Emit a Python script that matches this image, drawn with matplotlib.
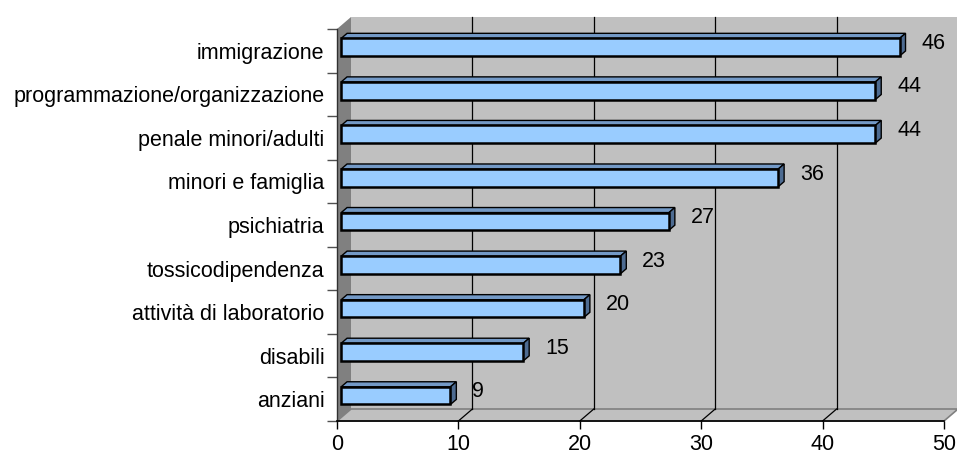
import matplotlib
matplotlib.use("Agg")
import matplotlib.pyplot as plt
from matplotlib.patches import Polygon, Rectangle

# data, top to bottom as in the chart
categories = ["immigrazione", "programmazione/organizzazione", "penale minori/adulti",
              "minori e famiglia", "psichiatria", "tossicodipendenza",
              "attività di laboratorio", "disabili", "anziani"]
values = [46, 44, 44, 36, 27, 23, 20, 15, 9]
x_ticks = [0, 10, 20, 30, 40, 50]

plt.rcParams['font.family'] = ['Liberation Sans', 'DejaVu Sans']
FS = 15.5

W, H = 957, 457
fig = plt.figure(figsize=(W / 100, H / 100), dpi=100)
fig.patch.set_facecolor('white')

# front plane of the 3d box in pixels
left_px, right_px, top_px, bot_px = 337, 944, 29, 421
ax = fig.add_axes([left_px / W, (H - bot_px) / H, (right_px - left_px) / W, (bot_px - top_px) / H])

n = len(categories)
xmax = 50
ax.set_xlim(0, xmax)
ax.set_ylim(-0.5, n - 0.5)
ax.patch.set_visible(False)

# depth offsets (data units) of the back wall
dx = 14 / (right_px - left_px) * xmax
dy = 12 / (bot_px - top_px) * n

y0, y1 = -0.5, n - 0.5

# back wall
ax.add_patch(Rectangle((dx, y0 + dy), xmax, n, facecolor='#C0C0C0', edgecolor='none',
                       clip_on=False, zorder=0))
# left side wall
ax.add_patch(Polygon([(0, y0), (dx, y0 + dy), (dx, y1 + dy), (0, y1)], closed=True,
                     facecolor='#808080', edgecolor='none', clip_on=False, zorder=1))
# floor
ax.add_patch(Polygon([(0, y0), (xmax, y0), (xmax + dx, y0 + dy), (dx, y0 + dy)], closed=True,
                     facecolor='#C0C0C0', edgecolor='#808080', linewidth=1.2,
                     clip_on=False, zorder=1))

# gridlines on the back wall + floor diagonals
for t in x_ticks[1:-1]:
    ax.plot([t + dx, t + dx], [y0 + dy, y1 + dy], color='black', linewidth=0.9,
            clip_on=False, zorder=2)
    ax.plot([t, t + dx], [y0, y0 + dy], color='black', linewidth=0.9,
            clip_on=False, zorder=2)

# 3d bars
f, b = 0.3, 0.72
h = 0.405
front_col, top_col, side_col = '#99CCFF', '#7399C6', '#4D6B91'
for i, (cat, v) in enumerate(zip(categories, values)):
    c = n - 1 - i
    xf = f * dx
    bot = c - h / 2 + f * dy
    top = c + h / 2 + f * dy
    ddx = (b - f) * dx
    ddy = (b - f) * dy
    ax.add_patch(Polygon([(xf, top), (v + xf, top), (v + xf + ddx, top + ddy), (xf + ddx, top + ddy)],
                         closed=True, facecolor=top_col, edgecolor='black', linewidth=1.0,
                         clip_on=False, zorder=3))
    ax.add_patch(Polygon([(v + xf, bot), (v + xf + ddx, bot + ddy), (v + xf + ddx, top + ddy), (v + xf, top)],
                         closed=True, facecolor=side_col, edgecolor='black', linewidth=1.0,
                         clip_on=False, zorder=3))
    ax.add_patch(Rectangle((xf, bot), v, h, facecolor=front_col, edgecolor='black',
                           linewidth=1.8, clip_on=False, zorder=4))
    ax.text(v + b * dx + 1.3, c + 0.17, str(v), ha='left', va='center', fontsize=FS,
            color='black', zorder=5)

# axes styling
for s in ['top', 'right']:
    ax.spines[s].set_visible(False)
ax.spines['bottom'].set_color('black')
ax.spines['bottom'].set_linewidth(1.2)
ax.spines['left'].set_color('#303030')
ax.spines['left'].set_linewidth(1.0)
ax.spines['bottom'].set_zorder(6)

ax.set_xticks(x_ticks)
ax.set_xticklabels([str(t) for t in x_ticks], fontsize=FS)
ax.tick_params(axis='x', direction='out', length=6, width=1, color='black', pad=3)

ax.set_yticks([k - 0.5 for k in range(n + 1)])
ax.set_yticklabels([])
ax.tick_params(axis='y', which='major', direction='out', length=7, width=1, color='#505050')
ax.set_yticks(range(n), minor=True)
ax.set_yticklabels(categories[::-1], minor=True, fontsize=FS)
ax.tick_params(axis='y', which='minor', length=0, pad=9)

fig.savefig("out.png", dpi=100)
